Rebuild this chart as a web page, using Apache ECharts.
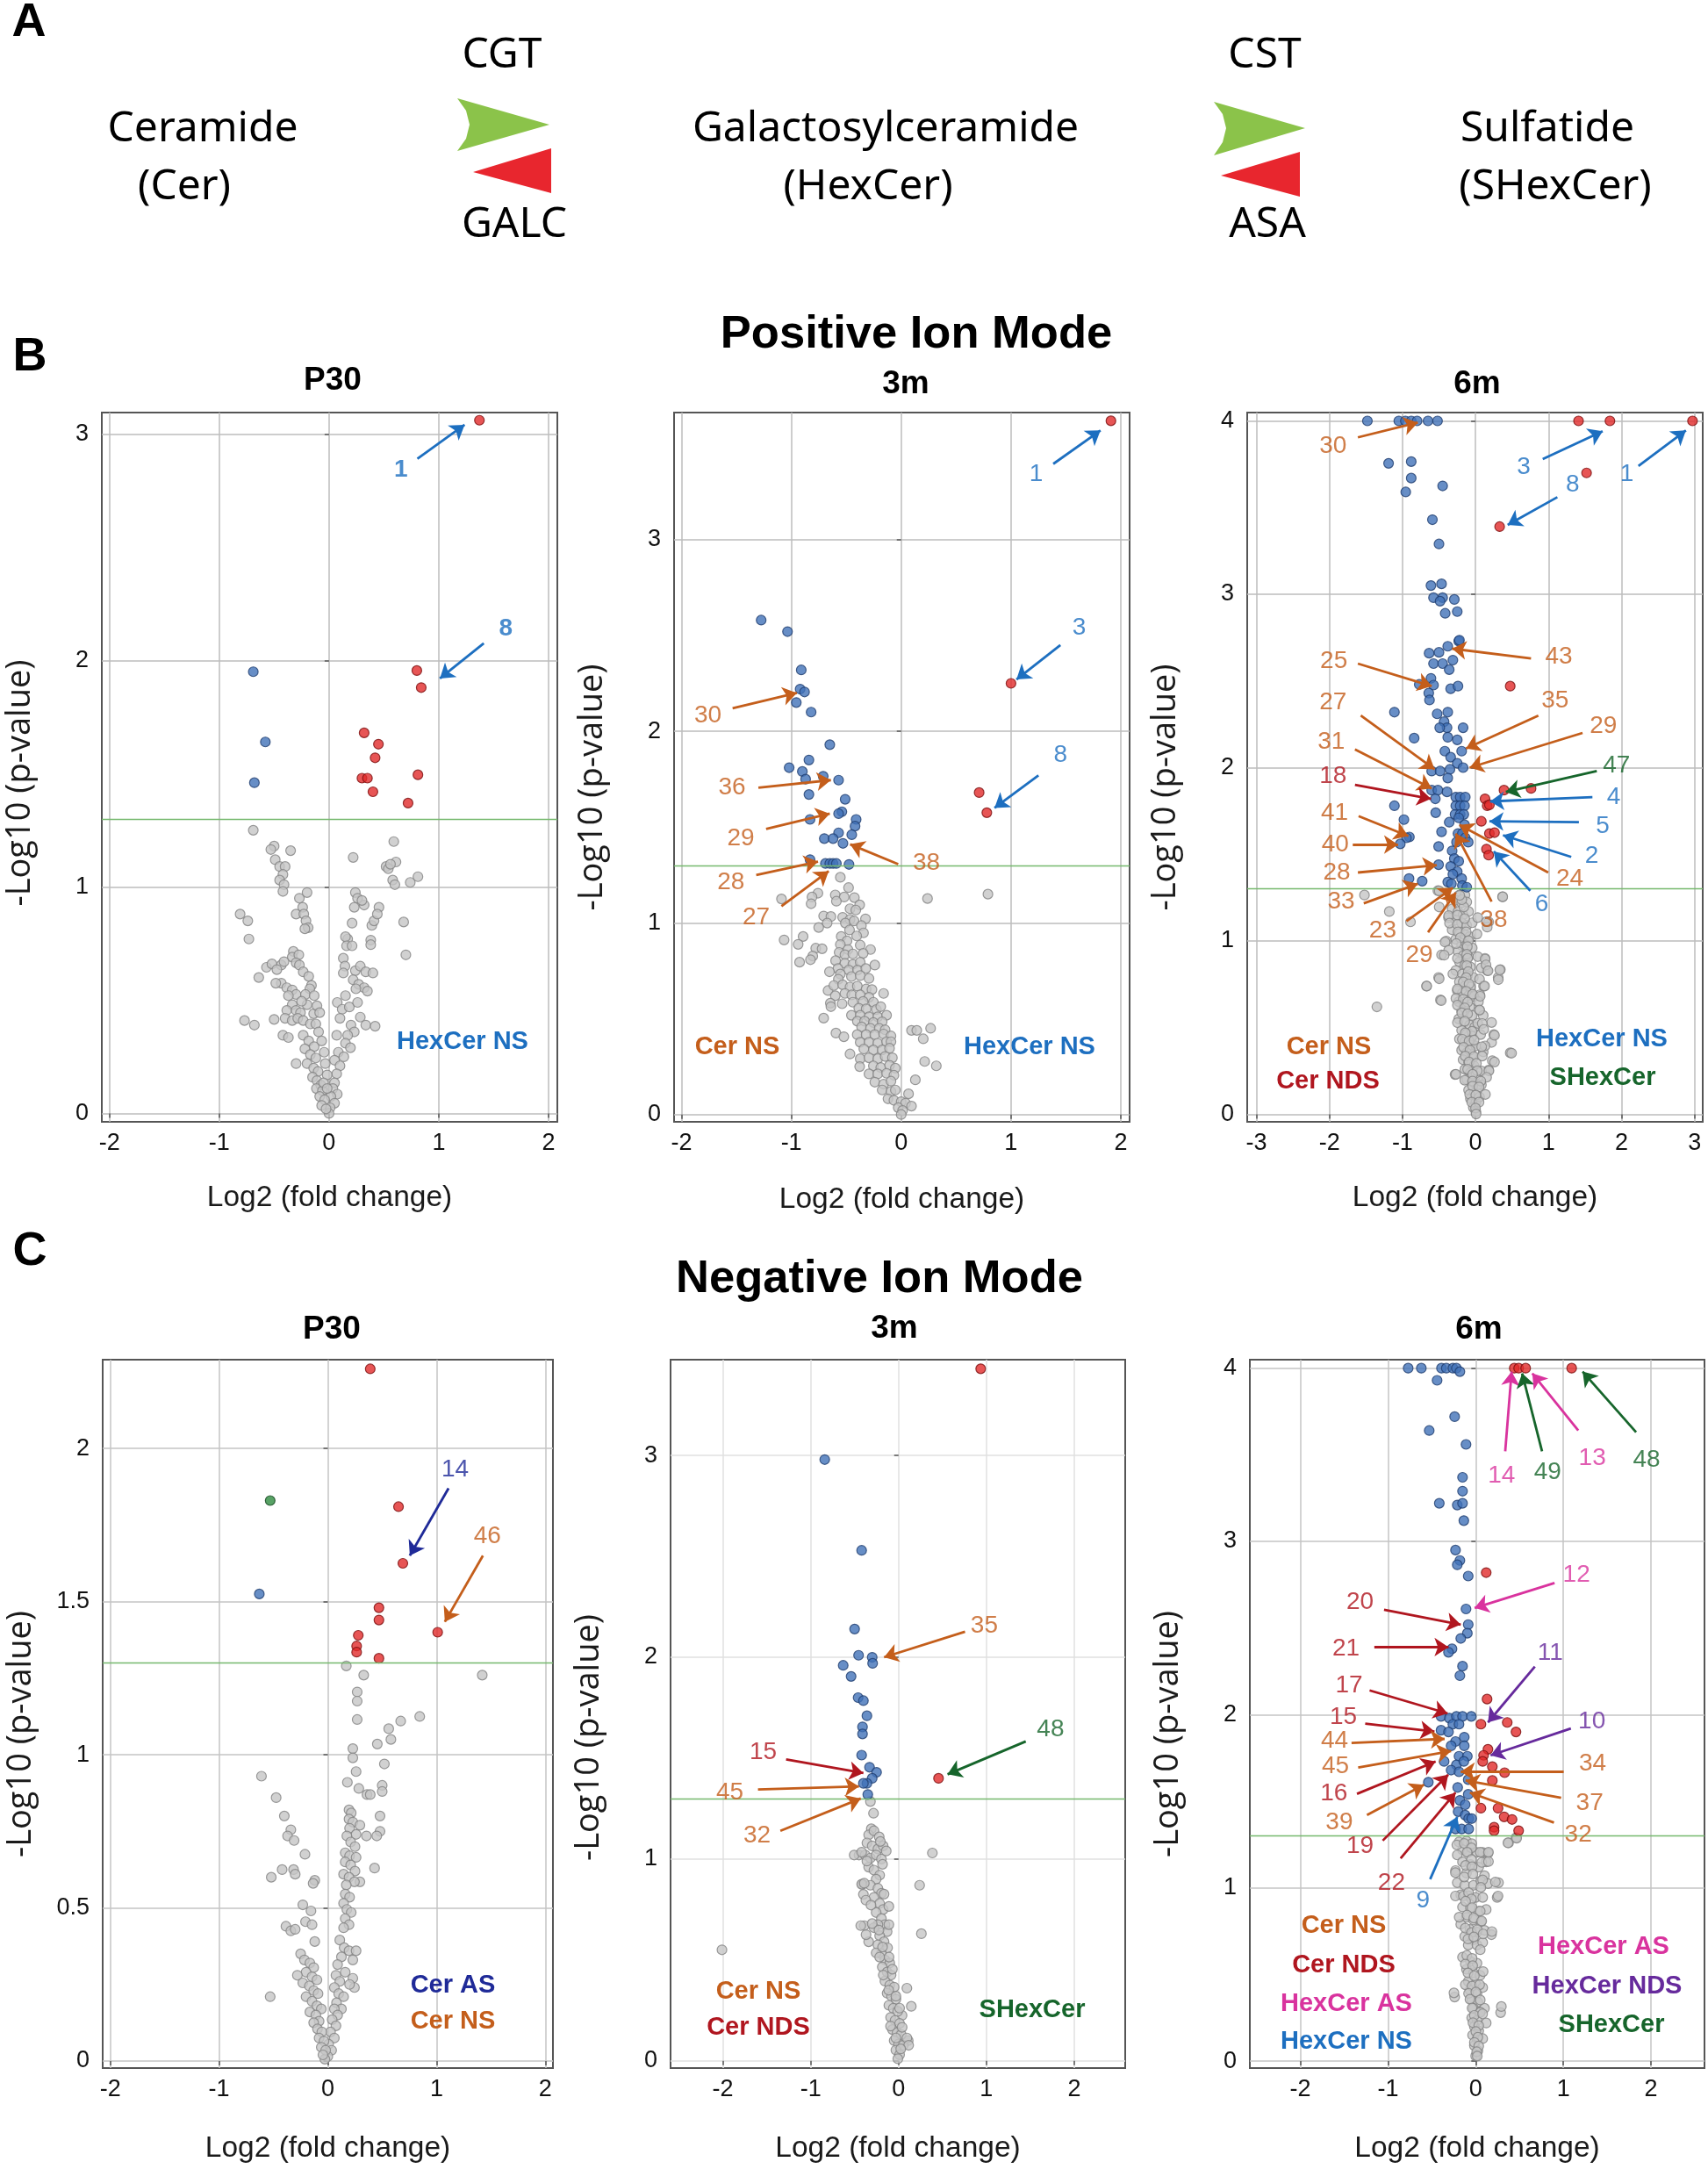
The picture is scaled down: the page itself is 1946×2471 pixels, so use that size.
<!DOCTYPE html>
<html><head><meta charset="utf-8">
<script src="https://cdn.jsdelivr.net/npm/echarts@6/dist/echarts.min.js"></script>
<style>html,body{margin:0;padding:0;background:#fff}#c{width:1946px;height:2471px}</style>
</head><body><div id="c"></div>
<script>
// ---------------- tick labels ----------------
const xTicks2 = [-2, -1, 0, 1, 2];
const xTicks3 = [-3, -2, -1, 0, 1, 2, 3];
const yTicks3 = [0, 1, 2, 3];
const yTicks4 = [0, 1, 2, 3, 4];
const yTicksHalf = [0, 0.5, 1, 1.5, 2];
const threshold = 1.3;

// ---------------- B: positive ion mode, P30 ----------------
const b1Red = [[1.37,3.06],[0.80,1.955],[0.84,1.88],[0.32,1.68],[0.45,1.63],[0.42,1.57],[0.30,1.48],[0.35,1.48],[0.40,1.42],[0.81,1.495],[0.72,1.37]];
const b1Blue = [[-0.69,1.95],[-0.58,1.64],[-0.68,1.46]];
const b1Gray = [
[-0.69,1.25],[-0.50,1.18],[-0.53,1.165],[-0.35,1.16],[-0.49,1.12],[-0.45,1.09],[-0.40,1.09],[-0.42,1.055],[-0.45,1.03],[-0.41,1.01],[-0.42,0.98],[-0.27,0.95],[-0.20,0.975],[-0.24,0.91],[-0.30,0.88],[-0.23,0.88],[-0.21,0.85],[-0.19,0.82],[-0.22,0.815],[-0.81,0.88],[-0.74,0.85],[-0.73,0.77],
[0.22,1.13],[0.59,1.20],[0.61,1.11],[0.52,1.09],[0.54,1.08],[0.56,1.10],[0.58,1.03],[0.60,1.01],[0.74,1.02],[0.81,1.045],[0.68,0.845],[0.70,0.70],[0.24,0.975],[0.26,0.95],[0.23,0.91],[0.32,0.92],[0.30,0.94],[0.21,0.84],[0.17,0.77],[0.39,0.83],[0.41,0.85],[0.455,0.91],[0.44,0.88],[0.15,0.78],[0.16,0.74],[0.21,0.74],[0.38,0.765],[0.38,0.745],
[0.13,0.685],[0.145,0.65],[0.24,0.63],[0.285,0.65],[0.335,0.625],[0.40,0.62],[0.22,0.59],[0.27,0.57],[0.32,0.555],[0.35,0.54],[0.13,0.62],[0.245,0.55],[0.15,0.52],[0.075,0.49],[0.12,0.46],[0.185,0.47],[0.26,0.49],[0.10,0.42],[0.20,0.39],[0.285,0.425],[0.335,0.39],[0.42,0.385],[0.23,0.36],[0.17,0.345],[0.07,0.345],[0.15,0.31],[0.195,0.29],[0.085,0.27],[0.135,0.25],[0.05,0.235],[0.10,0.21],[0.07,0.175],[0.05,0.135],[0.035,0.11],[0.075,0.085],[0.017,0.075],[0.05,0.045],[0.01,0.025],[0,0],
[-0.325,0.715],[-0.335,0.69],[-0.275,0.70],[-0.30,0.665],[-0.27,0.655],[-0.435,0.655],[-0.41,0.67],[-0.57,0.645],[-0.52,0.66],[-0.475,0.635],[-0.64,0.60],[-0.435,0.575],[-0.485,0.575],[-0.385,0.555],[-0.335,0.545],[-0.30,0.525],[-0.235,0.625],[-0.185,0.605],[-0.16,0.565],[-0.37,0.52],[-0.335,0.48],[-0.385,0.455],[-0.30,0.455],[-0.26,0.445],[-0.20,0.48],[-0.14,0.44],[-0.40,0.42],[-0.335,0.41],[-0.285,0.42],[-0.235,0.41],[-0.17,0.395],[-0.77,0.41],[-0.68,0.39],[-0.50,0.415],[-0.42,0.345],[-0.37,0.335],[-0.30,0.22],[-0.235,0.345],[-0.185,0.32],[-0.135,0.295],[-0.22,0.285],[-0.17,0.26],[-0.12,0.245],[-0.20,0.22],[-0.14,0.20],[-0.10,0.185],[-0.15,0.16],[-0.11,0.145],[-0.075,0.125],[-0.115,0.11],[-0.06,0.10],[-0.085,0.075],[-0.04,0.06],[-0.067,0.035],[-0.027,0.02],[-0.175,0.55],[-0.215,0.525],[-0.25,0.495],[-0.135,0.52],[-0.11,0.475],[-0.085,0.445],[-0.12,0.395],[-0.095,0.36],[-0.067,0.32],[-0.044,0.27],[-0.034,0.22],[-0.017,0.17],[-0.05,0.135],[-0.017,0.11]
];
const b1Notes = [
['1','hexNS',0.654,2.84,0.805,2.89,1.235,3.04],
['8','hexNS',1.61,2.14,1.41,2.075,1.01,1.92]
];

// ---------------- B: positive ion mode, 3m ----------------
const b2Red = [[1.91,3.62],[1.00,2.25],[0.71,1.68],[0.78,1.575]];
const b2Blue = [[-1.275,2.58],[-1.035,2.52],[-0.91,2.32],[-0.92,2.22],[-0.88,2.205],[-0.955,2.15],[-0.82,2.10],[-0.65,1.93],[-1.02,1.81],[-0.90,1.79],[-0.84,1.85],[-0.87,1.75],[-0.71,1.765],[-0.57,1.745],[-0.84,1.67],[-0.51,1.645],[-0.54,1.58],[-0.57,1.57],[-0.83,1.54],[-0.41,1.54],[-0.42,1.505],[-0.57,1.47],[-0.45,1.46],[-0.70,1.44],[-0.62,1.44],[-0.53,1.415],[-0.83,1.33],[-0.69,1.31],[-0.65,1.31],[-0.62,1.31],[-0.59,1.31],[-0.475,1.305]];
const b2Gray = [
[0.79,1.15],[-0.554,1.238],[-0.479,1.184],[-0.758,1.155],[-0.812,1.135],[-1.09,1.125],[-0.60,1.146],[-0.519,1.135],[-0.426,1.132],[-0.59,1.113],[-0.82,1.10],[-0.378,1.094],[0.24,1.127],
[-0.466,1.074],[-0.413,1.067],[-0.706,1.036],[-0.64,1.033],[-0.533,1.029],[-0.466,1.018],[-0.325,1.021],[-0.674,0.999],[-0.751,0.976],[-0.508,0.999],[-0.429,1.01],[-0.362,0.986],[-0.47,0.963],[-0.343,0.948],
[-1.066,0.911],[-0.893,0.929],[-0.938,0.888],[-0.546,0.929],[-0.493,0.906],[-0.405,0.932],[-0.373,0.884],[-0.554,0.887],[-0.778,0.868],[-0.72,0.865],[-0.279,0.861],[-0.485,0.861],[-0.565,0.846],[-0.512,0.834],[-0.44,0.838],[-0.346,0.841],[-0.805,0.827],[-0.826,0.808],
[-0.925,0.795],[-0.597,0.803],[-0.512,0.789],[-0.44,0.784],[-0.373,0.795],[-0.24,0.78],[-0.576,0.762],[-0.477,0.754],[-0.397,0.754],[-0.322,0.762],[-0.653,0.745],[-0.554,0.733],[-0.453,0.72],[-0.373,0.725],[-0.293,0.71],[-0.572,0.706],
[-0.666,0.647],[-0.613,0.673],[-0.533,0.677],[-0.466,0.665],[-0.399,0.67],[-0.319,0.655],[-0.266,0.652],[-0.60,0.62],[-0.512,0.632],[-0.45,0.624],[-0.373,0.624],[-0.293,0.612],[-0.16,0.632],[-0.645,0.581],[-0.538,0.578],[-0.44,0.586],[-0.346,0.59],[-0.253,0.586],[-0.64,0.563],
[-0.386,0.555],[-0.319,0.551],[-0.226,0.548],[-0.186,0.563],[-0.706,0.503],[-0.453,0.518],[-0.373,0.518],[-0.293,0.51],[-0.213,0.51],[-0.133,0.518],[-0.399,0.487],[-0.333,0.487],[-0.253,0.48],[-0.173,0.484],[-0.36,0.457],[-0.28,0.45],[-0.20,0.45],[-0.146,0.442],[0.094,0.439],[0.142,0.439],[0.268,0.45],
[-0.594,0.425],[-0.522,0.406],[-0.40,0.417],[-0.319,0.417],[-0.24,0.417],[-0.16,0.42],[-0.093,0.41],[0.201,0.395],[-0.373,0.377],[-0.293,0.377],[-0.213,0.372],[-0.133,0.38],[-0.093,0.38],[-0.34,0.342],[-0.253,0.337],[-0.173,0.337],[-0.106,0.346],[-0.466,0.316],
[-0.373,0.291],[-0.293,0.296],[-0.213,0.291],[-0.146,0.303],[-0.08,0.296],[-0.378,0.25],[-0.253,0.254],[-0.186,0.245],[-0.106,0.257],[-0.053,0.242],[0.214,0.277],[0.32,0.254],[-0.293,0.212],[-0.213,0.212],
[-0.133,0.215],[-0.066,0.205],[-0.24,0.169],[-0.16,0.158],[-0.093,0.174],[0.129,0.181],[-0.173,0.128],[-0.093,0.12],[-0.053,0.128],[0.067,0.108],[-0.12,0.082],[-0.066,0.074],[0,0.067],[0.04,0.059],[0.094,0.044],[-0.027,0.036],[0.013,0.021],[0,0]
];
const b2Notes = [
['1','hexNS',1.23,3.34,1.385,3.395,1.815,3.57],
['3','hexNS',1.62,2.54,1.45,2.45,1.05,2.27],
['8','hexNS',1.45,1.875,1.25,1.77,0.85,1.60],
['30','cerNS',-1.76,2.08,-1.535,2.12,-0.95,2.20],
['36','cerNS',-1.54,1.705,-1.30,1.705,-0.64,1.745],
['29','cerNS',-1.46,1.44,-1.23,1.49,-0.65,1.57],
['28','cerNS',-1.55,1.21,-1.32,1.25,-0.757,1.32],
['27','cerNS',-1.32,1.03,-1.09,1.087,-0.66,1.27],
['38','cerNS',0.23,1.31,-0.027,1.306,-0.465,1.41]
];

// ---------------- B: positive ion mode, 6m ----------------
const b3Red = [[1.41,4.0],[1.84,4.0],[2.97,4.0],[1.52,3.70],[0.33,3.39],[0.475,2.47],[0.76,1.88],[0.39,1.87],[0.13,1.82],[0.16,1.78],[0.19,1.785],[0.08,1.69],[0.19,1.62],[0.26,1.625],[0.15,1.53],[0.18,1.495]];
const b3Blue = [[-1.48,4],[-1.05,4],[-0.96,4],[-0.88,4],[-0.80,4],[-0.65,4],[-0.52,4],[-1.19,3.755],[-0.88,3.765],[-0.88,3.67],[-0.955,3.59],[-0.45,3.625],[-0.59,3.43],[-0.50,3.29],[-0.61,3.05],[-0.465,3.06],[-0.575,2.98],[-0.45,2.98],[-0.485,2.96],[-0.29,2.97],[-0.415,2.89],[-0.25,2.90],[-0.23,2.73],[-0.22,2.735],[-0.38,2.70],[-0.635,2.66],[-0.50,2.665],[-0.31,2.62],[-0.575,2.60],[-0.45,2.60],[-0.36,2.565],[-0.77,2.48],[-0.61,2.515],[-0.575,2.476],[-0.64,2.43],[-0.34,2.455],[-0.24,2.47],[-0.63,2.39],[-1.11,2.32],[-0.525,2.31],[-0.38,2.32],[-0.43,2.265],[-0.39,2.23],[-0.49,2.23],[-0.17,2.23],[-0.38,2.175],[-0.25,2.16],[-0.84,2.17],[-0.42,2.095],[-0.19,2.095],[-0.34,2.06],[-0.25,2.025],[-0.35,1.99],[-0.17,2.0],[-0.60,1.98],[-0.485,1.98],[-0.38,1.94],[-0.60,1.87],[-0.515,1.87],[-0.39,1.86],[-0.55,1.82],[-0.27,1.83],[-0.21,1.83],[-0.14,1.83],[-0.27,1.78],[-0.21,1.78],[-0.15,1.78],[-0.28,1.73],[-0.21,1.73],[-0.16,1.73],[-0.23,1.71],[-1.11,1.78],[-0.545,1.74],[-0.98,1.70],[-0.15,1.67],[-0.36,1.685],[-0.24,1.62],[-0.18,1.62],[-0.465,1.63],[-0.14,1.595],[-0.10,1.57],[-0.26,1.57],[-0.905,1.60],[-0.945,1.595],[-1.03,1.56],[-0.505,1.545],[-0.32,1.52],[-0.29,1.475],[-0.23,1.46],[-0.505,1.44],[-0.34,1.43],[-0.25,1.40],[-0.31,1.385],[-0.19,1.36],[-0.91,1.36],[-0.73,1.345],[-0.38,1.34],[-0.33,1.33],[-0.18,1.32],[-0.12,1.31]];
const b3Gray = [
[-1.52,1.265],[-1.18,1.17],[-0.89,1.11],[-0.515,1.29],[0.37,1.255],[0.18,1.11],[0.16,1.08],[-0.40,1.0],[-0.465,0.92],[0.13,0.90],[0.16,0.83],[0.34,0.835],[0.31,0.79],[-0.67,0.74],[-0.505,0.79],[-0.48,0.66],[-1.35,0.62],[0.06,0.69],[0.11,0.74],[0.055,0.60],[0.22,0.53],[0.25,0.46],[0.475,0.355],[0.22,0.415],[0.23,0.31],[-0.28,0.23],[0.18,0.255],[0.08,0.17],
[-0.22,1.265],[-0.145,1.265],[-0.27,1.235],[-0.19,1.22],[-0.12,1.225],[-0.32,1.185],[-0.24,1.17],[-0.17,1.15],[-0.095,1.17],[-0.37,1.135],[-0.27,1.12],[-0.19,1.105],[-0.12,1.09],[-0.045,1.105],[-0.32,1.065],[-0.22,1.045],[-0.145,1.035],[-0.08,1.025],[-0.27,1.01],[-0.19,0.975],[-0.12,0.975],[-0.045,0.96],[-0.24,0.94],[-0.17,0.915],[-0.095,0.91],[-0.22,0.88],[-0.145,0.86],[-0.07,0.85],[-0.27,0.83],[-0.18,0.81],[-0.11,0.80],[-0.03,0.79],[-0.22,0.765],[-0.145,0.74],[-0.07,0.735],[-0.25,0.715],[-0.18,0.70],[-0.095,0.685],[-0.02,0.68],[-0.23,0.65],[-0.155,0.635],[-0.08,0.62],[-0.19,0.595],[-0.12,0.58],[-0.045,0.57],[-0.23,0.55],[-0.155,0.53],[-0.08,0.515],[-0.01,0.505],[-0.19,0.485],[-0.12,0.465],[-0.045,0.45],[-0.22,0.435],[-0.145,0.42],[-0.07,0.40],[0.005,0.395],[-0.19,0.37],[-0.12,0.355],[-0.045,0.34],[-0.17,0.315],[-0.095,0.30],[-0.02,0.28],[-0.145,0.26],[-0.07,0.24],[0.005,0.225],[-0.12,0.20],[-0.045,0.185],[0.03,0.17],[-0.095,0.14],[-0.02,0.12],[-0.07,0.09],[0.005,0.07],[-0.03,0.04],[0.005,0.015],[0.055,0.10],[0.08,0.25],[0.105,0.36],[0.03,0.525],[0.07,0.46],[0.13,0.395],[0.04,0.65],[0.105,0.57],[0.055,0.78],[0.08,0.845],[0.03,0.91],[0.02,1.04],[0.03,1.135],
[-0.497,1.289],[0.372,1.255],[-0.497,1.196],[-0.368,1.146],[-0.248,1.149],[-0.16,1.196],[-0.188,1.238],[-0.216,1.263],[-0.356,1.103],[-0.248,1.095],[-0.148,1.129],[0.152,1.112],[-0.24,1.053],[-0.128,1.053],[-0.208,1.019],[-0.096,1.002],[-0.417,0.994],[-0.264,0.985],[-0.112,0.968],[-0.368,0.946],[-0.429,0.918],[-0.12,0.923],[-0.248,0.9],[-0.108,0.9],[0.132,0.895],[0.144,0.862],[0.172,0.828],[0.332,0.833],[0.312,0.777],[-0.12,0.858],[-0.1,0.823],[-0.31,0.81],[-0.497,0.782],[-0.669,0.74],[-0.128,0.789],[-0.168,0.764],[-0.088,0.752],[0.124,0.74],[-0.248,0.723],[-0.128,0.71],[-0.04,0.693],[0.064,0.681],[-0.469,0.656],[-0.268,0.669],[-0.168,0.664],[-0.108,0.647],[-0.248,0.63],[-0.148,0.614],[0.056,0.602],[-0.188,0.585],[-0.108,0.58],[-0.248,0.529],[-0.148,0.537],[0.092,0.524],[0.112,0.49],[-0.048,0.479],[-0.14,0.47],[0.26,0.456],[-0.18,0.433],[-0.088,0.423],[-0.02,0.428],[0.084,0.39],[-0.164,0.387],[-0.076,0.37],[0.494,0.353],[-0.14,0.336],[-0.02,0.333],[0.092,0.336],[0.26,0.302],[-0.088,0.302],[0.012,0.294],[-0.108,0.26],[0.024,0.251],[0.184,0.251],[-0.268,0.231],[0.152,0.214],[-0.04,0.231],[-0.148,0.197],[-0.04,0.192],[0.072,0.192],[-0.04,0.163],[0.048,0.158],[-0.08,0.115],[0.004,0.111],[0.136,0.115],[-0.052,0.07],[0.048,0.07],[0,0.036],[0.008,0.002]
];
const b3Notes = [
['30','cerNS',-1.95,3.855,-1.61,3.905,-0.79,3.99],
['3','hexNS',0.66,3.735,0.92,3.78,1.74,3.94],
['8','hexNS',1.33,3.63,1.12,3.56,0.44,3.40],
['1','hexNS',2.07,3.69,2.23,3.74,2.88,3.945],
['43','cerNS',1.14,2.64,0.76,2.63,-0.32,2.686],
['25','cerNS',-1.94,2.615,-1.61,2.60,-0.60,2.47],
['35','cerNS',1.09,2.385,0.86,2.30,-0.13,2.11],
['27','cerNS',-1.95,2.376,-1.57,2.30,-0.56,1.99],
['29','cerNS',1.75,2.24,1.465,2.20,-0.08,2.0],
['31','cerNS',-1.975,2.15,-1.65,2.105,-0.60,1.88],
['47','shex',1.93,2.01,1.66,1.98,0.415,1.86],
['18','cerNDS',-1.95,1.95,-1.65,1.90,-0.61,1.82],
['4','hexNS',1.89,1.83,1.60,1.83,0.20,1.805],
['41','cerNS',-1.93,1.74,-1.60,1.72,-0.92,1.605],
['5','hexNS',1.74,1.66,1.415,1.685,0.19,1.69],
['40','cerNS',-1.92,1.556,-1.68,1.556,-1.06,1.556],
['2','hexNS',1.59,1.49,1.31,1.485,0.376,1.61],
['24','cerNS',1.29,1.356,0.995,1.395,-0.22,1.67],
['28','cerNS',-1.90,1.395,-1.61,1.395,-0.53,1.437],
['6','hexNS',0.906,1.21,0.75,1.29,0.25,1.517],
['33','cerNS',-1.84,1.227,-1.53,1.217,-0.79,1.33],
['38','cerNS',0.25,1.12,0.22,1.227,-0.27,1.62],
['23','cerNS',-1.27,1.06,-0.945,1.114,-0.31,1.307],
['29','cerNS',-0.77,0.917,-0.65,1.05,-0.27,1.28]
];

// ---------------- C: negative ion mode, P30 ----------------
const c1Red = [[0.39,2.26],[0.65,1.81],[0.69,1.625],[0.47,1.48],[0.47,1.44],[1.01,1.40],[0.28,1.39],[0.265,1.355],[0.265,1.335],[0.47,1.315]];
const c1Blue = [[-0.63,1.525]];
const c1Green = [[-0.53,1.83]];
const c1Gray = [
[0.17,1.29],[0.33,1.26],[1.42,1.26],[0.27,1.205],[0.27,1.175],[0.27,1.115],[0.845,1.125],[0.67,1.11],[0.56,1.085],[0.58,1.05],[0.455,1.035],[0.52,0.97],[0.23,1.02],[0.23,0.99],[0.26,0.945],[0.18,0.91],[0.285,0.89],[0.50,0.90],[0.50,0.88],[0.36,0.87],[0.39,0.87],[-0.61,0.93],[-0.475,0.86],[-0.40,0.80],
[0.195,0.82],[0.215,0.81],[0.195,0.79],[0.23,0.78],[0.20,0.76],[0.295,0.77],[0.48,0.80],[0.48,0.75],[0.45,0.735],[0.355,0.735],[0.26,0.74],[0.175,0.735],[0.21,0.715],[0.25,0.70],[0.16,0.68],[0.20,0.67],[0.26,0.665],[0.43,0.63],[0.16,0.65],[0.21,0.64],[0.25,0.62],[0.145,0.61],[0.195,0.60],[0.295,0.585],[0.245,0.585],[0.17,0.575],[0.16,0.545],[0.20,0.535],[0.145,0.515],[0.175,0.495],[0.215,0.485],[0.16,0.465],[0.195,0.445],[0.145,0.435],[0.11,0.395],[0.15,0.37],[0.195,0.36],[0.26,0.36],[0.23,0.33],[0.125,0.34],[0.09,0.315],[0.16,0.29],[0.23,0.27],[0.245,0.24],[0.20,0.25],[0.075,0.28],[0.11,0.26],[0.06,0.24],[0.10,0.22],[0.145,0.21],[0.08,0.19],[0.125,0.17],[0.06,0.17],[0.09,0.15],[0.04,0.135],[0.075,0.115],[0.025,0.095],[0.06,0.075],[0.007,0.055],[0.035,0.035],[0,0.015],[-0.027,0.006],
[-0.34,0.755],[-0.37,0.735],[-0.31,0.72],[-0.21,0.675],[-0.42,0.625],[-0.315,0.625],[-0.30,0.61],[-0.52,0.60],[-0.12,0.59],[-0.135,0.58],[-0.53,0.21],[-0.23,0.51],[-0.155,0.49],[-0.205,0.455],[-0.145,0.445],[-0.385,0.44],[-0.34,0.425],[-0.30,0.43],[-0.12,0.39],[-0.25,0.35],[-0.215,0.33],[-0.165,0.32],[-0.13,0.305],[-0.20,0.29],[-0.145,0.275],[-0.10,0.265],[-0.28,0.28],[-0.23,0.255],[-0.17,0.245],[-0.13,0.23],[-0.09,0.22],[-0.20,0.21],[-0.145,0.195],[-0.10,0.18],[-0.06,0.17],[-0.165,0.16],[-0.11,0.15],[-0.08,0.13],[-0.13,0.125],[-0.095,0.105],[-0.055,0.095],[-0.08,0.075],[-0.035,0.065],[-0.06,0.045],[-0.02,0.035],[-0.045,0.02]
];
const c1Notes = [
['14','cerAS',1.17,1.93,1.11,1.87,0.754,1.65],
['46','cerNS',1.467,1.714,1.426,1.65,1.076,1.434]
];

// ---------------- C: negative ion mode, 3m ----------------
const c2Red = [[0.935,3.43],[0.455,1.40]];
const c2Blue = [[-0.84,2.98],[-0.42,2.53],[-0.50,2.14],[-0.455,2.01],[-0.30,2.0],[-0.295,1.97],[-0.63,1.96],[-0.54,1.905],[-0.46,1.80],[-0.40,1.785],[-0.36,1.71],[-0.41,1.655],[-0.41,1.62],[-0.42,1.515],[-0.33,1.455],[-0.25,1.43],[-0.30,1.40],[-0.36,1.375],[-0.40,1.375],[-0.35,1.32]];
const c2Gray = [
[-0.32,1.285],[-0.285,1.227],[-0.31,1.15],[0.385,1.03],[0.24,0.87],[0.26,0.63],[-2.01,0.55],[0.095,0.36],[0.145,0.27],[0.04,0.225],[0.11,0.10],[-0.45,1.02],[-0.41,0.875],[-0.39,0.67],[-0.34,0.59],
[-0.34,1.12],[-0.28,1.14],[-0.22,1.11],[-0.36,1.08],[-0.30,1.065],[-0.235,1.05],[-0.175,1.065],[-0.38,1.02],[-0.32,1.005],[-0.255,1.02],[-0.195,1.0],[-0.14,1.04],[-0.34,0.96],[-0.28,0.945],[-0.215,0.92],[-0.255,0.90],[-0.32,0.87],[-0.235,0.855],[-0.195,0.83],[-0.28,0.81],[-0.215,0.78],[-0.175,0.75],[-0.255,0.735],[-0.195,0.705],[-0.155,0.675],[-0.235,0.675],[-0.28,0.66],[-0.13,0.64],[-0.215,0.62],[-0.165,0.59],[-0.235,0.575],[-0.125,0.56],[-0.195,0.53],[-0.155,0.50],[-0.10,0.485],[-0.185,0.465],[-0.13,0.44],[-0.085,0.425],[-0.155,0.395],[-0.10,0.375],[-0.05,0.365],[-0.13,0.335],[-0.08,0.32],[-0.03,0.305],[-0.11,0.275],[-0.06,0.26],[-0.01,0.245],[-0.09,0.215],[-0.04,0.20],[0.012,0.185],[-0.07,0.155],[-0.017,0.14],[0.03,0.13],[-0.05,0.10],[0,0.083],[0.054,0.077],[-0.03,0.053],[0.012,0.03],[-0.008,0.01],[0.095,0.113],[0.115,0.077],[-0.505,1.02],[-0.42,0.875],[-0.40,0.825],[-0.43,0.67],[-0.37,0.625],[-0.39,0.88],[-0.255,0.535],[-0.30,0.68],[-0.11,0.675],[-0.11,0.765],
[-0.42,1.034],[-0.36,0.99],[-0.207,1.087],[-0.182,0.974],[-0.372,0.796],[-0.314,0.772],[-0.165,0.826],[-0.223,0.648],[-0.182,0.564],[-0.215,0.514],[-0.108,0.514],[-0.174,0.425],[-0.07,0.454],[-0.112,0.35],[-0.03,0.32],[0.012,0.261],[-0.091,0.172],[0.041,0.166],[-0.03,0.113],[0.025,0.059]
];
const c2Notes = [
['35','cerNS',0.976,2.156,0.757,2.127,-0.165,2.0],
['48','shex',1.73,1.64,1.448,1.583,0.558,1.42],
['15','cerNDS',-1.54,1.53,-1.28,1.494,-0.40,1.426],
['45','cerNS',-1.92,1.33,-1.60,1.345,-0.45,1.36],
['32','cerNS',-1.61,1.117,-1.345,1.14,-0.43,1.30]
];

// ---------------- C: negative ion mode, 6m ----------------
const c3Red = [[0.44,4],[0.49,4],[0.57,4],[1.095,4],[0.12,2.82],[0.13,2.09],[0.06,1.945],[0.36,1.955],[0.46,1.90],[0.14,1.80],[0.09,1.765],[0.08,1.73],[0.19,1.70],[0.33,1.665],[0.19,1.62],[0.06,1.46],[0.255,1.46],[0.325,1.41],[0.415,1.395],[0.21,1.35],[0.21,1.33],[0.49,1.33]];
const c3Blue = [[-0.77,4],[-0.62,4],[-0.39,4],[-0.335,4],[-0.26,4],[-0.22,4],[-0.18,3.98],[-0.44,3.93],[-0.53,3.64],[-0.24,3.72],[-0.11,3.56],[-0.15,3.37],[-0.15,3.29],[-0.415,3.22],[-0.21,3.21],[-0.15,3.22],[-0.135,3.12],[-0.23,2.95],[-0.18,2.89],[-0.21,2.865],[-0.085,2.80],[-0.11,2.61],[-0.085,2.52],[-0.095,2.47],[-0.17,2.44],[-0.27,2.38],[-0.31,2.36],[-0.15,2.28],[-0.18,2.225],[-0.395,1.99],[-0.30,1.98],[-0.22,1.99],[-0.15,1.99],[-0.05,1.99],[-0.26,1.945],[-0.19,1.945],[-0.395,1.91],[-0.31,1.90],[-0.13,1.87],[-0.23,1.845],[-0.28,1.82],[-0.13,1.82],[-0.36,1.73],[-0.19,1.76],[-0.095,1.76],[-0.22,1.71],[-0.135,1.73],[-0.28,1.68],[-0.19,1.67],[-0.085,1.625],[-0.54,1.61],[-0.205,1.58],[-0.085,1.54],[-0.18,1.505],[-0.12,1.48],[-0.20,1.44],[-0.12,1.42],[-0.08,1.40],[-0.045,1.40],[-0.23,1.34],[-0.16,1.34],[-0.08,1.34]];
const c3Gray = [
[0.375,1.26],[0.46,1.29],[0.26,1.03],[0.245,0.945],[-0.24,0.37],[0.285,0.28],[0.18,0.73],
[-0.19,1.265],[-0.105,1.27],[-0.045,1.255],[-0.15,1.22],[-0.085,1.205],[-0.21,1.19],[0.015,1.205],[0.08,1.205],[0.14,1.20],[0.12,1.15],[-0.15,1.15],[-0.06,1.135],[0.035,1.12],[-0.23,1.10],[-0.105,1.085],[0.10,1.07],[-0.21,1.03],[-0.125,1.015],[-0.025,1.015],[0.06,1.04],[0.14,1.025],[-0.17,0.96],[-0.085,0.955],[0,0.945],[0.08,0.945],[-0.15,0.89],[-0.06,0.885],[0.035,0.865],[0.12,0.875],[-0.105,0.83],[-0.025,0.815],[0.06,0.805],[-0.17,0.79],[-0.065,0.76],[0.015,0.745],[0.10,0.755],[-0.125,0.72],[-0.03,0.70],[-0.085,0.67],[0.015,0.67],[0.08,0.685],[-0.15,0.60],[-0.06,0.575],[0.015,0.565],[-0.105,0.53],[-0.025,0.51],[0.05,0.495],[-0.085,0.46],[0,0.445],[-0.065,0.41],[0.015,0.39],[0.08,0.425],[-0.045,0.355],[0.025,0.34],[-0.025,0.305],[0.05,0.285],[-0.045,0.25],[0.015,0.235],[-0.015,0.20],[0.035,0.175],[-0.035,0.15],[0.015,0.125],[-0.015,0.09],[0.025,0.06],[0,0.03],[0.08,0.13],[0.12,0.22],[0.10,0.305],
[-0.215,1.248],[-0.131,1.257],[-0.048,1.231],[-0.098,1.206],[0.052,1.206],[0.146,1.206],[0.368,1.26],[0.468,1.287],[-0.048,1.164],[-0.115,1.13],[-0.041,1.122],[0.069,1.147],[0.146,1.152],[-0.231,1.088],[-0.131,1.063],[-0.031,1.079],[0.079,1.046],[0.225,1.034],[0.059,1.003],[-0.231,0.953],[-0.141,0.953],[-0.081,0.973],[-0.048,0.936],[0.255,0.953],[-0.115,0.923],[-0.041,0.886],[0.052,0.866],[-0.188,0.831],[-0.098,0.843],[-0.021,0.826],[0.069,0.809],[-0.118,0.768],[-0.048,0.742],[0.018,0.759],[0.085,0.734],[0.185,0.748],[-0.088,0.705],[-0.021,0.717],[0.052,0.643],[-0.101,0.61],[-0.041,0.593],[-0.118,0.56],[-0.034,0.551],[0.085,0.517],[-0.088,0.509],[-0.015,0.492],[-0.118,0.441],[-0.041,0.433],[0.045,0.441],[-0.248,0.394],[-0.081,0.391],[0.002,0.399],[-0.065,0.357],[0.052,0.353],[0.293,0.315],[-0.041,0.306],[0.052,0.281],[-0.015,0.264],[0.079,0.273],[-0.031,0.222],[0.035,0.205],[0.002,0.171],[0.025,0.138],[-0.015,0.108],[0.035,0.087],[0.012,0.054],[0.018,0.029]
];
const c3Notes = [
['14','hexAS',0.296,3.377,0.337,3.52,0.41,3.98],
['49','shex',0.82,3.40,0.757,3.52,0.53,3.97],
['13','hexAS',1.33,3.48,1.17,3.64,0.646,3.97],
['48','shex',1.95,3.47,1.83,3.63,1.22,3.98],
['12','hexAS',1.15,2.806,0.90,2.76,-0.012,2.616],
['20','cerNDS',-1.32,2.65,-1.045,2.605,-0.17,2.52],
['21','cerNDS',-1.48,2.38,-1.156,2.39,-0.31,2.39],
['11','hexNDS',0.85,2.356,0.675,2.277,0.14,1.955],
['17','cerNDS',-1.445,2.166,-1.21,2.14,-0.32,2.007],
['15','cerNDS',-1.51,1.983,-1.26,1.948,-0.47,1.903],
['10','hexNDS',1.325,1.958,1.086,1.92,0.17,1.765],
['44','cerNS',-1.61,1.85,-1.416,1.837,-0.354,1.86],
['45','cerNS',-1.60,1.70,-1.34,1.695,-0.28,1.79],
['34','cerNS',1.333,1.716,1.004,1.671,-0.17,1.671],
['16','cerNDS',-1.617,1.543,-1.354,1.543,-0.457,1.73],
['37','cerNS',1.30,1.488,0.975,1.52,-0.115,1.62],
['39','cerNS',-1.556,1.377,-1.24,1.42,-0.59,1.595],
['32','cerNS',1.17,1.308,0.893,1.377,-0.066,1.55],
['19','cerNDS',-1.32,1.239,-1.06,1.273,-0.313,1.654],
['22','cerNDS',-0.96,1.03,-0.856,1.17,-0.23,1.55],
['9','hexNS',-0.60,0.927,-0.519,1.05,-0.21,1.41]
];

// ---------------- styling ----------------
const COL = {hexNS:'#1d6fc0', cerNS:'#c45e1b', cerNDS:'#b0161f', shex:'#16652b', hexAS:'#d9339e', hexNDS:'#662a9c', cerAS:'#1f2a98'};
const SANS = '"Liberation Sans", Arial, sans-serif';

const panels = [
 {grid:{left:116,top:470,width:519,height:808}, xr:[-2.07,2.08], yr:[-0.037,3.094], xt:xTicks2, yt:yTicks3, gc:'#bdbdbd', xGap:70, yShift:36, gray:b1Gray, blue:b1Blue, red:b1Red, green:[], notes:b1Notes, bold:true},
 {grid:{left:768,top:470,width:519,height:808}, xr:[-2.068,2.08], yr:[-0.038,3.663], xt:xTicks2, yt:yTicks3, gc:'#bdbdbd', xGap:72, yShift:46, gray:b2Gray, blue:b2Blue, red:b2Red, green:[], notes:b2Notes},
 {grid:{left:1421,top:470,width:519,height:808}, xr:[-3.125,3.11], yr:[-0.043,4.048], xt:xTicks3, yt:yTicks4, gc:'#bdbdbd', xGap:70, yShift:46, gray:b3Gray, blue:b3Blue, red:b3Red, green:[], notes:b3Notes},
 {grid:{left:117,top:1549,width:513,height:807}, xr:[-2.07,2.07], yr:[-0.023,2.29], xt:xTicks2, yt:yTicksHalf, gc:'#c4c4c4', xGap:75, yShift:46, gray:c1Gray, blue:c1Blue, red:c1Red, green:c1Green, notes:c1Notes},
 {grid:{left:764,top:1549,width:518,height:807}, xr:[-2.595,2.58], yr:[-0.036,3.475], xt:xTicks2, yt:yTicks3, gc:'#e0e0e0', xGap:75, yShift:54, gray:c2Gray, blue:c2Blue, red:c2Red, green:[], notes:c2Notes},
 {grid:{left:1424,top:1549,width:518,height:807}, xr:[-2.576,2.61], yr:[-0.04,4.049], xt:xTicks2, yt:yTicks4, gc:'#c4c4c4', xGap:75, yShift:46, gray:c3Gray, blue:c3Blue, red:c3Red, green:[], notes:c3Notes}
];

const grids = [], xAxes = [], yAxes = [], series = [];
panels.forEach((p, i) => {
  grids.push(Object.assign({show:true, borderColor:'#555', borderWidth:2, backgroundColor:'transparent', containLabel:false, outerBoundsMode:'none'}, p.grid));
  xAxes.push({
    gridIndex:i, type:'value', min:p.xr[0], max:p.xr[1],
    axisLine:{show:false},
    axisTick:{show:true, customValues:p.xt, length:5, inside:false, lineStyle:{color:'#555', width:1.5}},
    axisLabel:{customValues:p.xt, fontSize:27, color:'#111', margin:11, fontFamily:SANS},
    splitLine:{show:true, lineStyle:{color:p.gc, width:1.5}},
    name:'Log2 (fold change)', nameLocation:'middle', nameGap:p.xGap, nameMoveOverlap:false,
    nameTextStyle:{fontSize:33.5, color:'#1a1a1a', fontFamily:SANS}
  });
  yAxes.push({
    gridIndex:i, type:'value', min:p.yr[0], max:p.yr[1],
    axisLine:{show:false},
    axisTick:{show:true, customValues:p.yt, length:5, inside:false, lineStyle:{color:'#555', width:1.5}},
    axisLabel:{customValues:p.yt, fontSize:27, color:'#111', margin:15, fontFamily:SANS},
    splitLine:{show:true, lineStyle:{color:p.gc, width:1.5}},
    name:'-Log10 (p-value)', nameLocation:'middle', nameGap:74, nameMoveOverlap:false,
    nameTextStyle:{fontSize:38, color:'#1a1a1a', fontFamily:'"Open Sans", sans-serif', padding:[0, p.yShift, 0, 0]}
  });
  const base = {type:'scatter', xAxisIndex:i, yAxisIndex:i, symbolSize:11, animation:false, clip:false};
  series.push(Object.assign({}, base, {name:'gray'+i, data:p.gray, z:2,
    itemStyle:{color:'#c6c6c6', borderColor:'#828282', borderWidth:1.2},
    markLine:{silent:true, symbol:'none', animation:false, label:{show:false},
      lineStyle:{color:'#76b96e', width:1.4, type:'solid'}, data:[{yAxis:threshold}]}}));
  series.push(Object.assign({}, base, {name:'blue'+i, data:p.blue, z:3,
    itemStyle:{color:'#4172b8', borderColor:'#1e3c6e', borderWidth:1.2}}));
  series.push(Object.assign({}, base, {name:'red'+i, data:p.red, z:3,
    itemStyle:{color:'#e12a2a', borderColor:'#7a0d0d', borderWidth:1.2}}));
  if (p.green.length) series.push(Object.assign({}, base, {name:'green'+i, data:p.green, z:3,
    itemStyle:{color:'#2e8b3f', borderColor:'#14461f', borderWidth:1.2}}));
  // annotation numbers (label positions in data units)
  series.push(Object.assign({}, base, {name:'notes'+i, z:5, symbolSize:1,
    itemStyle:{color:'rgba(0,0,0,0)'},
    data:p.notes.map(n => ({value:[n[2], n[3]], name:n[0],
      label:{show:true, position:'inside', formatter:'{b}', color:COL[n[1]], fontSize:28,
        fontWeight:p.bold ? 'bold' : 'normal', fontFamily:SANS}}))
  }));
  // annotation arrows (from/to in data units)
  series.push(Object.assign({}, base, {name:'arrows'+i, z:6, data:[], itemStyle:{color:'#444'},
    markLine:{silent:true, animation:false, symbol:['none','arrow'], symbolSize:16, label:{show:false}, z:6,
      data:p.notes.map(n => [
        {coord:[n[4], n[5]], lineStyle:{color:COL[n[1]], width:2.8, type:'solid'}, itemStyle:{color:COL[n[1]]}},
        {coord:[n[6], n[7]], itemStyle:{color:COL[n[1]]}}])}
  }));
});

// ---------------- graphic text (diagram A, titles, legends) ----------------
function txt(x, y, text, font, fill, align) {
  return {type:'text', x:x, y:y, z:10, silent:true,
    style:{text:text, font:font, fill:fill || '#000', textAlign:align || 'center', align:align || 'center', textVerticalAlign:'middle', verticalAlign:'middle'}};
}
const NOTO = '"Noto Sans", "Open Sans", sans-serif';
const fA = '48px ' + NOTO;
const fPanel = 'bold 54px ' + SANS;
const fTitle = 'bold 52.5px ' + SANS;
const fSub = 'bold 37px ' + SANS;
const fLeg = 'bold 29px ' + SANS;

const graphics = [
  txt(33, 26, 'A', fPanel), txt(34, 407, 'B', fPanel), txt(34, 1426, 'C', fPanel),
  txt(231, 147, 'Ceramide', fA), txt(210, 213, '(Cer)', fA),
  txt(572, 63, 'CGT', fA), txt(586, 256, 'GALC', fA),
  txt(1009, 147, 'Galactosylceramide', fA), txt(989, 213, '(HexCer)', fA),
  txt(1441, 63, 'CST', fA), txt(1444, 256, 'ASA', fA),
  txt(1763, 147, 'Sulfatide', fA), txt(1772, 213, '(SHexCer)', fA),
  {type:'polygon', silent:true, shape:{points:[[521,112],[626,142],[521,172],[531,158],[535,142],[531,126]]}, style:{fill:'#8bc34a'}},
  {type:'polygon', silent:true, shape:{points:[[539,196],[628,169],[628,220]]}, style:{fill:'#e8262e'}},
  {type:'polygon', silent:true, shape:{points:[[1383,116],[1487,146],[1383,177],[1393,162],[1397,146],[1393,130]]}, style:{fill:'#8bc34a'}},
  {type:'polygon', silent:true, shape:{points:[[1391,200],[1481,173],[1481,224]]}, style:{fill:'#e8262e'}},
  txt(1044, 382, 'Positive Ion Mode', fTitle), txt(1002, 1458, 'Negative Ion Mode', fTitle),
  txt(379, 434, 'P30', fSub), txt(1032, 438, '3m', fSub), txt(1683, 438, '6m', fSub),
  txt(378, 1515, 'P30', fSub), txt(1019, 1514, '3m', fSub), txt(1685, 1515, '6m', fSub),
  txt(527, 1187, 'HexCer NS', fLeg, COL.hexNS),
  txt(840, 1193, 'Cer NS', fLeg, COL.cerNS), txt(1173, 1193, 'HexCer NS', fLeg, COL.hexNS),
  txt(1514, 1193, 'Cer NS', fLeg, COL.cerNS), txt(1513, 1232, 'Cer NDS', fLeg, COL.cerNDS),
  txt(1825, 1184, 'HexCer NS', fLeg, COL.hexNS), txt(1826, 1228, 'SHexCer', fLeg, COL.shex),
  txt(516, 2262, 'Cer AS', fLeg, COL.cerAS), txt(516, 2303, 'Cer NS', fLeg, COL.cerNS),
  txt(864, 2269, 'Cer NS', fLeg, COL.cerNS), txt(864, 2310, 'Cer NDS', fLeg, COL.cerNDS), txt(1176, 2290, 'SHexCer', fLeg, COL.shex),
  txt(1531, 2194, 'Cer NS', fLeg, COL.cerNS), txt(1531, 2239, 'Cer NDS', fLeg, COL.cerNDS),
  txt(1534, 2283, 'HexCer AS', fLeg, COL.hexAS), txt(1534, 2326, 'HexCer NS', fLeg, COL.hexNS),
  txt(1827, 2218, 'HexCer AS', fLeg, COL.hexAS), txt(1831, 2263, 'HexCer NDS', fLeg, COL.hexNDS), txt(1836, 2307, 'SHexCer', fLeg, COL.shex)
];

const chart = echarts.init(document.getElementById('c'), null, {renderer:'canvas', width:1946, height:2471});
chart.setOption({
  backgroundColor:'#ffffff',
  animation:false,
  grid:grids, xAxis:xAxes, yAxis:yAxes, series:series,
  graphic:graphics
});
</script>
</body></html>
